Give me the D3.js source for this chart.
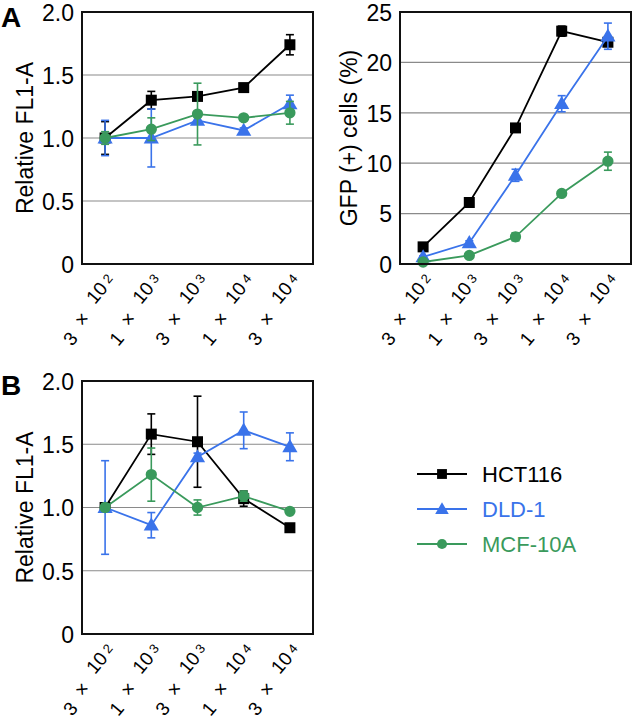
<!DOCTYPE html>
<html>
<head>
<meta charset="utf-8">
<script src="https://cdn.jsdelivr.net/npm/d3@7/dist/d3.min.js"></script>
<style>
  html, body { margin: 0; padding: 0; background: #fff; }
  svg { display: block; font-family: "Liberation Sans", Arial, sans-serif; }
</style>
</head>
<body>
<svg id="chart" width="634" height="719"></svg>
<script>
// ---------- data ----------
const tickCoef = ["3", "1", "3", "1", "3"];
const tickExp = ["2", "3", "3", "4", "4"];
const seriesNames = ["HCT116", "DLD-1", "MCF-10A"];

// Panel A (left): Relative FL1-A
const hctA1 = [1.00, 1.30, 1.33, 1.40, 1.74];
const hctA1Err = [0.13, 0.07, 0.03, 0.02, 0.08];
const dldA1 = [1.00, 1.00, 1.14, 1.06, 1.27];
const dldA1Err = [0.14, 0.23, 0.03, 0.02, 0.07];
const mcfA1 = [1.00, 1.07, 1.19, 1.16, 1.20];
const mcfA1Err = [0.05, 0.09, 0.245, 0.02, 0.09];

// Panel A (right): GFP (+) cells (%)
const hctA2 = [1.7, 6.1, 13.5, 23.1, 22.0];
const hctA2Err = [0.2, 0.3, 0.3, 0.5, 0.3];
const dldA2 = [0.7, 2.1, 8.8, 15.9, 22.6];
const dldA2Err = [0.1, 0.2, 0.6, 0.8, 1.3];
const mcfA2 = [0.2, 0.85, 2.7, 7.0, 10.2];
const mcfA2Err = [0.1, 0.1, 0.4, 0.2, 0.9];

// Panel B: Relative FL1-A
const hctB = [1.00, 1.58, 1.52, 1.07, 0.84];
const hctBErr = [0.02, 0.16, 0.36, 0.06, 0.03];
const dldB = [1.00, 0.86, 1.40, 1.61, 1.48];
const dldBErr = [0.37, 0.10, 0.03, 0.145, 0.11];
const mcfB = [1.00, 1.26, 1.00, 1.09, 0.97];
const mcfBErr = [0.03, 0.21, 0.06, 0.04, 0.02];

const ticksRel = [0, 0.5, 1.0, 1.5, 2.0];
const ticksRelLabels = ["0", "0.5", "1.0", "1.5", "2.0"];
const ticksGfp = [0, 5, 10, 15, 20, 25];

// ---------- styles ----------
const colors = { "HCT116": "#000000", "DLD-1": "#3a73ea", "MCF-10A": "#3a9a5c" };
const symbols = { "HCT116": d3.symbolSquare, "DLD-1": d3.symbolTriangle, "MCF-10A": d3.symbolCircle };
const symSize = { "HCT116": 121, "DLD-1": 100, "MCF-10A": 100 };
const FONT = 22;

const svg = d3.select("#chart");

function panel(opts) {
  const { x0, x1, y0, y1, domain, ticks, tickLabels, series, yLabel, yLabelX, tickEnd } = opts;
  const g = svg.append("g");
  const x = d3.scalePoint().domain(d3.range(tickCoef.length)).range([x0, x1]).padding(0.5);
  const y = d3.scaleLinear().domain(domain).range([y1, y0]);

  // gridlines
  g.selectAll("line.grid").data(ticks.filter(t => t > domain[0] && t < domain[1]))
    .enter().append("line")
    .attr("x1", x0).attr("x2", x1)
    .attr("y1", d => y(d)).attr("y2", d => y(d))
    .attr("stroke", "#8a8a8a").attr("stroke-width", 1.2);

  // y axis tick labels
  const yAxis = d3.axisLeft(y).tickValues(ticks).tickSize(0).tickPadding(0)
    .tickFormat((d, i) => tickLabels ? tickLabels[i] : String(d));
  const ya = g.append("g").attr("transform", `translate(${tickEnd},0)`).call(yAxis);
  ya.select(".domain").remove();
  ya.selectAll("text").attr("font-size", 23).attr("fill", "#000")
    .attr("font-family", "Liberation Sans, Arial, sans-serif").attr("dy", "0.36em");

  // y label
  g.append("text")
    .attr("transform", `translate(${yLabelX},${(y0 + y1) / 2}) rotate(-90)`)
    .attr("text-anchor", "middle")
    .attr("font-size", 23)
    .text(yLabel);

  // x tick labels: pieces laid along a steep diagonal, glyphs tilted
  tickCoef.forEach((c, i) => {
    const pieces = [
      { t: c, dx: -35, dy: 74.5, fs: 19 },
      { t: "\u00d7", dx: -23.5, dy: 55, fs: 20 },
      { t: "10", dx: -8.5, dy: 28.5, fs: 19 },
      { t: tickExp[i], dx: 2.5, dy: 14.5, fs: 13 }
    ];
    pieces.forEach(pc => {
      g.append("text")
        .attr("transform", `translate(${x(i) + pc.dx},${y1 + pc.dy}) rotate(-50)`)
        .attr("text-anchor", "middle").attr("dy", "0.36em")
        .attr("font-size", pc.fs).text(pc.t);
    });
  });

  // series
  const line = d3.line().x((d, i) => x(i)).y(d => y(d));
  series.forEach(s => {
    const c = colors[s.name];
    const sg = g.append("g");
    s.values.forEach((v, i) => {
      const e = s.err[i];
      const cx = x(i);
      sg.append("line").attr("x1", cx).attr("x2", cx).attr("y1", y(v - e)).attr("y2", y(v + e))
        .attr("stroke", c).attr("stroke-width", 1.6);
      [v - e, v + e].forEach(t => {
        sg.append("line").attr("x1", cx - 4).attr("x2", cx + 4).attr("y1", y(t)).attr("y2", y(t))
          .attr("stroke", c).attr("stroke-width", 1.6);
      });
    });
    sg.append("path").datum(s.values).attr("d", line)
      .attr("fill", "none").attr("stroke", c).attr("stroke-width", 1.8);
    sg.selectAll("path.m").data(s.values).enter().append("path")
      .attr("d", d3.symbol().type(symbols[s.name]).size(symSize[s.name]))
      .attr("transform", (d, i) => `translate(${x(i)},${y(d) + (s.name === "DLD-1" ? 1 : 0)})`)
      .attr("fill", c);
  });

  // frame
  g.append("rect").attr("x", x0).attr("y", y0).attr("width", x1 - x0).attr("height", y1 - y0)
    .attr("fill", "none").attr("stroke", "#111").attr("stroke-width", 2);
}

panel({
  x0: 82, x1: 313, y0: 12, y1: 264, domain: [0, 2],
  ticks: ticksRel, tickLabels: ticksRelLabels, yLabel: "Relative FL1-A", yLabelX: 33, tickEnd: 74,
  series: [
    { name: "HCT116", values: hctA1, err: hctA1Err },
    { name: "DLD-1", values: dldA1, err: dldA1Err },
    { name: "MCF-10A", values: mcfA1, err: mcfA1Err }
  ]
});

panel({
  x0: 400, x1: 631, y0: 12, y1: 264, domain: [0, 25],
  ticks: ticksGfp, tickLabels: null, yLabel: "GFP (+) cells (%)", yLabelX: 357, tickEnd: 392,
  series: [
    { name: "HCT116", values: hctA2, err: hctA2Err },
    { name: "DLD-1", values: dldA2, err: dldA2Err },
    { name: "MCF-10A", values: mcfA2, err: mcfA2Err }
  ]
});

panel({
  x0: 82, x1: 313, y0: 381, y1: 634, domain: [0, 2],
  ticks: ticksRel, tickLabels: ticksRelLabels, yLabel: "Relative FL1-A", yLabelX: 33, tickEnd: 74,
  series: [
    { name: "HCT116", values: hctB, err: hctBErr },
    { name: "DLD-1", values: dldB, err: dldBErr },
    { name: "MCF-10A", values: mcfB, err: mcfBErr }
  ]
});

// panel letters
svg.append("text").attr("x", 1).attr("y", 27).attr("font-size", 28).attr("font-weight", "bold").text("A");
svg.append("text").attr("x", 1).attr("y", 395).attr("font-size", 28).attr("font-weight", "bold").text("B");

// legend
const leg = svg.append("g");
seriesNames.forEach((n, i) => {
  const yy = 474 + i * 35;
  const c = colors[n];
  leg.append("line").attr("x1", 417).attr("x2", 467).attr("y1", yy).attr("y2", yy)
    .attr("stroke", c).attr("stroke-width", 2);
  leg.append("path").attr("d", d3.symbol().type(symbols[n]).size(symSize[n] * 0.8))
    .attr("transform", `translate(442,${yy + (n === "DLD-1" ? 1 : 0)})`).attr("fill", c);
  leg.append("text").attr("x", 482).attr("y", yy).attr("dy", "0.36em")
    .attr("font-size", FONT).attr("fill", c).text(n);
});
</script>
</body>
</html>
